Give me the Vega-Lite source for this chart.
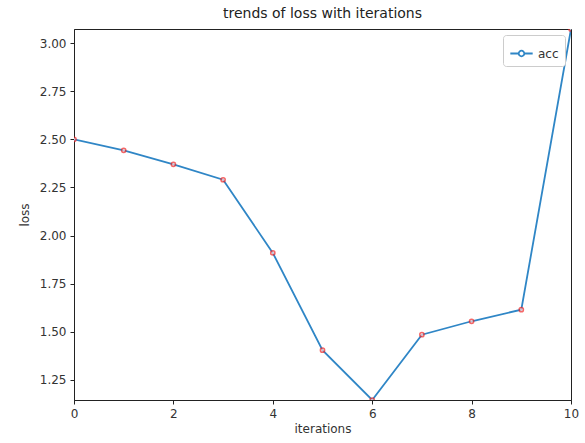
{
  "$schema": "https://vega.github.io/schema/vega-lite/v6.json",
  "width": 497,
  "height": 371,
  "autosize": {"type": "none"},
  "padding": {"left": 74, "top": 29, "right": 14, "bottom": 43},
  "background": "white",
  "config": {
    "font": "DejaVu Sans",
    "view": {"stroke": "#222", "strokeWidth": 1},
    "axis": {
      "labelFont": "DejaVu Sans",
      "titleFont": "DejaVu Sans",
      "labelFontSize": 12,
      "titleFontSize": 12,
      "titleFontWeight": "normal",
      "labelColor": "#333",
      "titleColor": "#333",
      "domainColor": "#222",
      "tickColor": "#222",
      "tickSize": 4,
      "grid": false,
      "labelPadding": 4,
      "labelFlush": false
    }
  },
  "title": {
    "text": "trends of loss with iterations",
    "font": "DejaVu Sans",
    "fontSize": 14,
    "fontWeight": "normal",
    "color": "#222",
    "offset": 8
  },
  "data": {
    "values": [
      {"iterations": 0, "loss": 2.50, "series": "acc"},
      {"iterations": 1, "loss": 2.443, "series": "acc"},
      {"iterations": 2, "loss": 2.37, "series": "acc"},
      {"iterations": 3, "loss": 2.29, "series": "acc"},
      {"iterations": 4, "loss": 1.91, "series": "acc"},
      {"iterations": 5, "loss": 1.405, "series": "acc"},
      {"iterations": 6, "loss": 1.146, "series": "acc"},
      {"iterations": 7, "loss": 1.485, "series": "acc"},
      {"iterations": 8, "loss": 1.555, "series": "acc"},
      {"iterations": 9, "loss": 1.615, "series": "acc"},
      {"iterations": 10, "loss": 3.073, "series": "acc"}
    ]
  },
  "encoding": {
    "x": {
      "field": "iterations",
      "type": "quantitative",
      "scale": {"domain": [0, 10], "nice": false, "zero": false},
      "axis": {"values": [0, 2, 4, 6, 8, 10], "title": "iterations", "titlePadding": 4}
    },
    "y": {
      "field": "loss",
      "type": "quantitative",
      "scale": {"domain": [1.146, 3.073], "nice": false, "zero": false},
      "axis": {"values": [1.25, 1.5, 1.75, 2.0, 2.25, 2.5, 2.75, 3.0], "format": ".2f", "title": "loss", "titlePadding": 8}
    }
  },
  "layer": [
    {
      "mark": {"type": "line", "strokeWidth": 1.8, "clip": true},
      "encoding": {
        "color": {
          "field": "series",
          "type": "nominal",
          "scale": {"range": ["#2f86c6"]},
          "legend": {
            "title": null,
            "orient": "top-right",
            "offset": 6,
            "symbolType": "M-1,0H-0.3M0.3,0H1M-0.25,0a0.25,0.25 0 1,0 0.5,0a0.25,0.25 0 1,0 -0.5,0",
            "symbolSize": 500,
            "symbolStrokeWidth": 1.8,
            "symbolFillColor": "transparent",
            "labelFontSize": 12,
            "labelFont": "DejaVu Sans",
            "labelColor": "#333",
            "strokeColor": "#ccc",
            "fillColor": "white",
            "cornerRadius": 3,
            "padding": 6
          }
        }
      }
    },
    {
      "mark": {"type": "point", "shape": "circle", "filled": false, "fill": "#ffdddd", "stroke": "#f02828", "strokeWidth": 1.5, "size": 18, "clip": true}
    }
  ]
}
